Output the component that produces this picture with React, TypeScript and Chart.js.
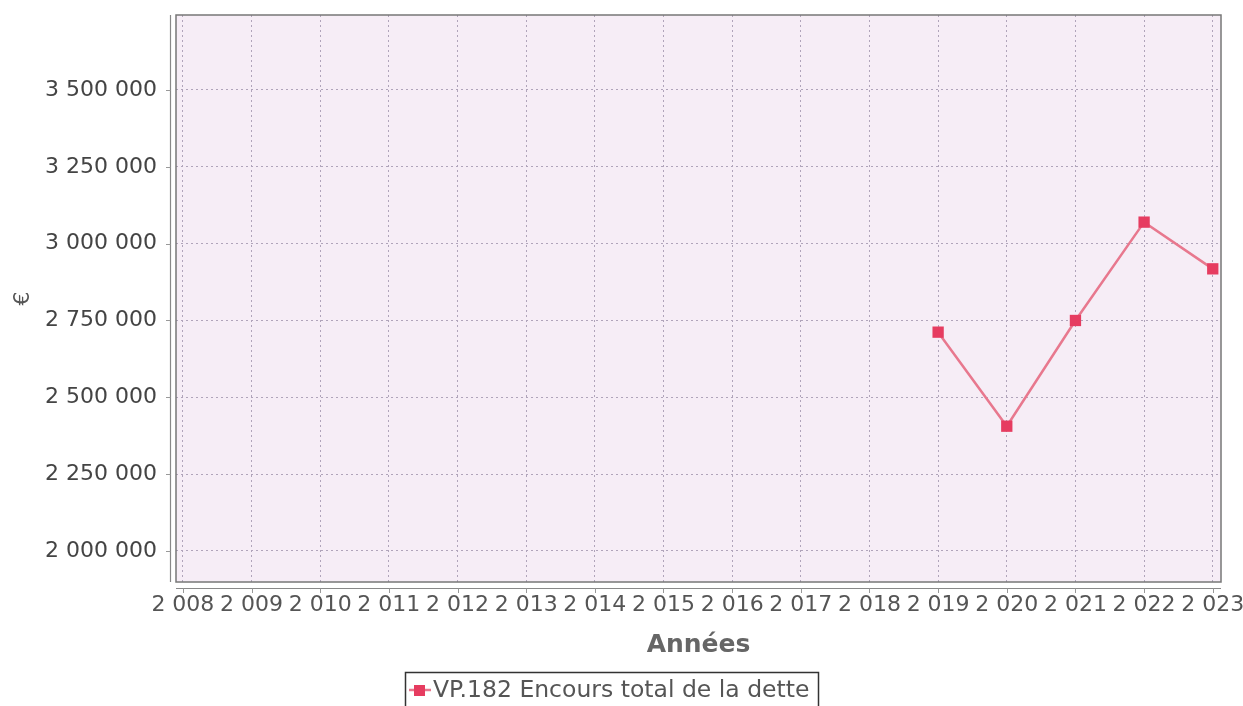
import React, { useEffect, useRef } from "react";
import { Chart, registerables } from "chart.js";

Chart.register(...registerables);

// ---- data ----
const years = [2008, 2009, 2010, 2011, 2012, 2013, 2014, 2015, 2016, 2017, 2018, 2019, 2020, 2021, 2022, 2023];
const xTickLabels = ["2 008", "2 009", "2 010", "2 011", "2 012", "2 013", "2 014", "2 015", "2 016", "2 017", "2 018", "2 019", "2 020", "2 021", "2 022", "2 023"];
const yTicks = [2000000, 2250000, 2500000, 2750000, 3000000, 3250000, 3500000];
const yTickLabels = ["2 000 000", "2 250 000", "2 500 000", "2 750 000", "3 000 000", "3 250 000", "3 500 000"];
const dataYears = [2019, 2020, 2021, 2022, 2023];
const encours = [2712000, 2406000, 2750000, 3070000, 2918000];
const seriesLabel = "VP.182 Encours total de la dette";
const xTitle = "Années";
const yTitle = "€";

const FONT = "'DejaVu Sans', sans-serif";
const LINE_COLOR = "#e8788e";
const POINT_COLOR = "#e63c60";
const TEXT_COLOR = "#555555";
const GRID_COLOR = "#b0a4ba";

const decorPlugin = {
  id: "decor",
  beforeDraw(chart: any) {
    const { ctx, chartArea: a } = chart;
    ctx.save();
    ctx.fillStyle = "#f6edf6";
    ctx.fillRect(a.left, a.top, a.right - a.left, a.bottom - a.top);
    ctx.restore();
  },
  afterDraw(chart: any) {
    const { ctx, chartArea: a, scales } = chart;
    ctx.save();
    // plot outline
    ctx.strokeStyle = "#777777";
    ctx.lineWidth = 1.5;
    ctx.strokeRect(a.left, a.top, a.right - a.left, a.bottom - a.top);
    // offset axis lines
    ctx.strokeStyle = "#888888";
    ctx.lineWidth = 1.2;
    ctx.beginPath();
    ctx.moveTo(a.left - 5.5, a.top);
    ctx.lineTo(a.left - 5.5, a.bottom);
    ctx.moveTo(a.left, a.bottom + 6.5);
    ctx.lineTo(a.right, a.bottom + 6.5);
    ctx.stroke();
    // tick marks
    ctx.strokeStyle = "#999999";
    ctx.lineWidth = 1;
    ctx.beginPath();
    for (const v of yTicks) {
      const y = Math.round(scales.y.getPixelForValue(v)) + 0.5;
      ctx.moveTo(a.left - 10, y);
      ctx.lineTo(a.left - 5.5, y);
    }
    for (const v of years) {
      const x = Math.round(scales.x.getPixelForValue(v)) + 0.5;
      ctx.moveTo(x, a.bottom + 6.5);
      ctx.lineTo(x, a.bottom + 11);
    }
    ctx.stroke();

    // legend
    const ds = chart.data.datasets[0];
    const bx = 405.5, by = 672.5, bw = 413, bh = 36;
    ctx.strokeStyle = "#333333";
    ctx.lineWidth = 1.5;
    ctx.strokeRect(bx, by, bw, bh);
    const cy = 690;
    ctx.strokeStyle = LINE_COLOR;
    ctx.lineWidth = 2.5;
    ctx.beginPath();
    ctx.moveTo(409, cy);
    ctx.lineTo(431, cy);
    ctx.stroke();
    ctx.fillStyle = POINT_COLOR;
    ctx.fillRect(414, cy - 5, 11, 11);
    ctx.fillStyle = TEXT_COLOR;
    ctx.font = `23.5px ${FONT}`;
    ctx.textBaseline = "middle";
    ctx.textAlign = "left";
    ctx.fillText(ds.label, 433, cy + 1);
    ctx.restore();
  },
};

export default function App() {
  const ref = useRef<HTMLCanvasElement | null>(null);

  useEffect(() => {
    if (!ref.current) return;
    const resetPad = (scale: any) => {
      scale.paddingTop = 0;
      scale.paddingBottom = 0;
      scale.paddingLeft = 0;
      scale.paddingRight = 0;
    };
    const chart = new Chart(ref.current, {
      type: "line",
      data: {
        datasets: [
          {
            label: seriesLabel,
            data: dataYears.map((yr, i) => ({ x: yr, y: encours[i] })),
            borderColor: LINE_COLOR,
            backgroundColor: POINT_COLOR,
            borderWidth: 2.5,
            pointStyle: "rect",
            pointRadius: 8,
            pointBorderWidth: 0,
            pointBackgroundColor: POINT_COLOR,
            tension: 0,
            clip: false as any,
          },
        ],
      },
      options: {
        animation: false,
        responsive: false,
        maintainAspectRatio: false,
        layout: { padding: { top: 15, right: 22, bottom: 0, left: 0 } },
        plugins: {
          legend: { display: false },
          tooltip: { enabled: false },
        },
        scales: {
          x: {
            type: "linear",
            min: 2007.9,
            max: 2023.12,
            afterBuildTicks: (scale: any) => {
              scale.ticks = years.map((v) => ({ value: v }));
            },
            afterFit: (scale: any) => {
              scale.height = 124;
              resetPad(scale);
            },
            grid: {
              color: GRID_COLOR,
              lineWidth: 1,
              drawTicks: false,
            },
            border: { display: false, dash: [2, 3] },
            ticks: {
              autoSkip: false,
              maxRotation: 0,
              minRotation: 0,
              padding: 10,
              color: TEXT_COLOR,
              font: { family: FONT, size: 22 },
              callback: (value: any) => {
                const i = years.indexOf(Number(value));
                return i >= 0 ? xTickLabels[i] : "";
              },
            },
            title: {
              display: true,
              text: xTitle,
              color: "#666666",
              font: { family: FONT, size: 25, weight: "bold" },
              padding: { top: 0, bottom: 46 },
            },
          },
          y: {
            type: "linear",
            min: 1899000,
            max: 3744000,
            afterBuildTicks: (scale: any) => {
              scale.ticks = yTicks.map((v) => ({ value: v }));
            },
            afterFit: (scale: any) => {
              scale.width = 176;
              resetPad(scale);
            },
            grid: {
              color: GRID_COLOR,
              lineWidth: 1,
              drawTicks: false,
            },
            border: { display: false, dash: [2, 3] },
            ticks: {
              padding: 19,
              color: "#444444",
              font: { family: FONT, size: 22 },
              callback: (value: any) => {
                const i = yTicks.indexOf(Number(value));
                return i >= 0 ? yTickLabels[i] : "";
              },
            },
            title: {
              display: true,
              text: yTitle,
              color: "#555555",
              font: { family: FONT, size: 22 },
              padding: { top: 10, bottom: 0 },
            },
          },
        },
      },
      plugins: [decorPlugin],
    });
    return () => chart.destroy();
  }, []);

  return (
    <div style={{ position: "fixed", left: 0, top: 0, width: 1243, height: 706, background: "#ffffff" }}>
      <canvas ref={ref} width={1243} height={706} style={{ display: "block", width: 1243, height: 706 }} />
    </div>
  );
}
